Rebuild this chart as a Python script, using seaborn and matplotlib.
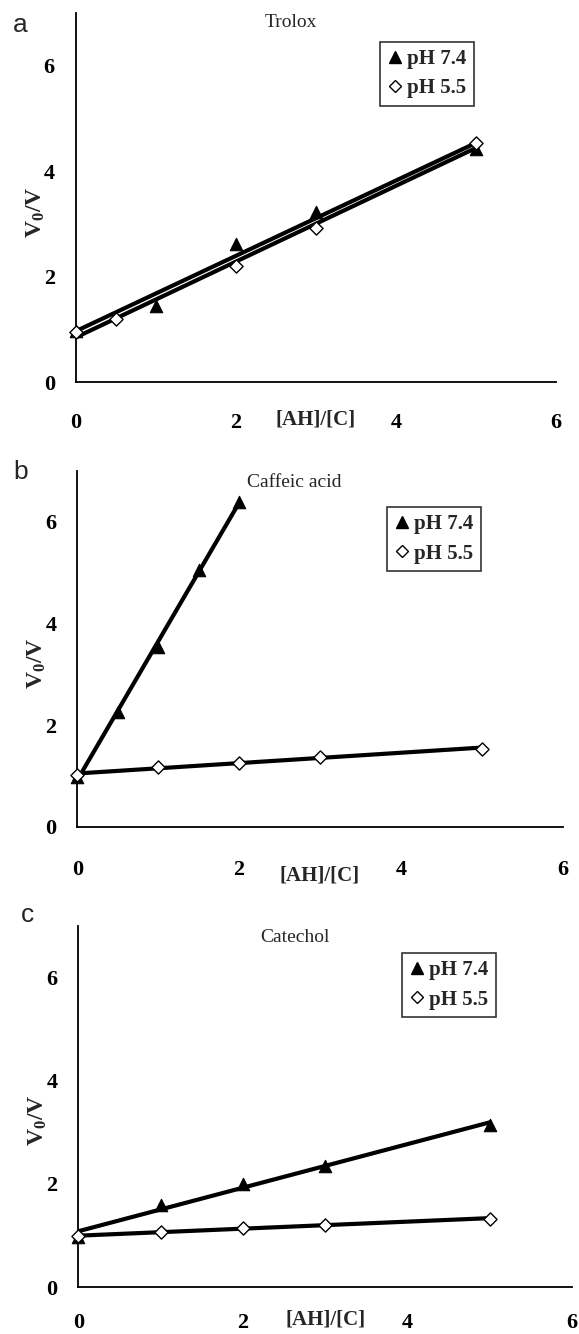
import matplotlib
matplotlib.use("Agg")
import matplotlib.pyplot as plt
from matplotlib.lines import Line2D
import numpy as np
import pandas as pd
import seaborn as sns

# data
trolox_x_74 = [0, 1, 2, 3, 5]
trolox_y_74 = [0.98, 1.45, 2.62, 3.22, 4.43]
trolox_x_55 = [0, 0.5, 2, 3, 5]
trolox_y_55 = [0.95, 1.20, 2.20, 2.92, 4.53]

caffeic_x_74 = [0, 0.5, 1, 1.5, 2]
caffeic_y_74 = [0.98, 2.26, 3.54, 5.05, 6.39]
caffeic_x_55 = [0, 1, 2, 3, 5]
caffeic_y_55 = [1.02, 1.18, 1.25, 1.38, 1.54]

catechol_x_74 = [0, 1, 2, 3, 5]
catechol_y_74 = [0.97, 1.58, 2.00, 2.35, 3.14]
catechol_x_55 = [0, 1, 2, 3, 5]
catechol_y_55 = [0.98, 1.06, 1.15, 1.21, 1.32]

panel_titles = ["Trolox", "Caffeic acid", "Catechol"]
panel_letters = ["a", "b", "c"]
series_labels = ["pH 7.4", "pH 5.5"]
ticks = [0, 2, 4, 6]

sns.set_style("white")
plt.rcParams["font.family"] = ["Liberation Serif", "DejaVu Serif"]
plt.rcParams["mathtext.fontset"] = "custom"
plt.rcParams["mathtext.rm"] = "Liberation Serif:bold"
plt.rcParams["mathtext.bf"] = "Liberation Serif:bold"
plt.rcParams["mathtext.it"] = "Liberation Serif:italic"

fig = plt.figure(figsize=(5.79, 13.34), dpi=100)

boxes = [
	[0.1307, 0.7133, 0.8295, 0.2770],
	[0.1335, 0.3801, 0.8383, 0.2672],
	[0.1352, 0.0352, 0.8527, 0.2710],
]
title_pos = [(0.448, 0.973), (0.448, 0.965), (0.439, 0.968)]
legend_pos = [(0.634, 0.922), (0.638, 0.898), (0.656, 0.924)]
letter_pos = [(0.035, 0.981), (0.035, 0.646), (0.048, 0.314)]
xlabel_y = [-0.074, -0.108, -0.062]
xtick_pad = [15, 17, 12]

panels = [
	(trolox_x_74, trolox_y_74, trolox_x_55, trolox_y_55),
	(caffeic_x_74, caffeic_y_74, caffeic_x_55, caffeic_y_55),
	(catechol_x_74, catechol_y_74, catechol_x_55, catechol_y_55),
]

for i, (x74, y74, x55, y55) in enumerate(panels):
	ax = fig.add_axes(boxes[i])
	df74 = pd.DataFrame({"x": x74, "y": y74})
	df55 = pd.DataFrame({"x": x55, "y": y55})

	# linear fits
	sns.regplot(data=df74, x="x", y="y", ax=ax, scatter=False, ci=None,
		color="black", line_kws={"linewidth": 3.0})
	sns.regplot(data=df55, x="x", y="y", ax=ax, scatter=False, ci=None,
		color="black", line_kws={"linewidth": 3.0})

	sns.scatterplot(data=df74, x="x", y="y", ax=ax, marker="^", s=80,
		color="black", edgecolor="black", linewidth=0.8, zorder=4, clip_on=False)
	sns.scatterplot(data=df55, x="x", y="y", ax=ax, marker="D", s=45,
		facecolor="white", edgecolor="black", linewidth=1.0, zorder=5, clip_on=False)

	ax.set_xlim(0, 6)
	ax.set_ylim(0, 7)
	ax.set_xticks(ticks)
	ax.set_yticks(ticks)
	ax.tick_params(axis="both", direction="out", length=7, width=1.2,
		labelsize=16, colors="black")
	ax.tick_params(axis="x", pad=xtick_pad[i])
	ax.tick_params(axis="y", pad=8)
	for lab in ax.get_xticklabels() + ax.get_yticklabels():
		lab.set_fontweight("bold")
	sns.despine(ax=ax)
	for side in ("left", "bottom"):
		ax.spines[side].set_linewidth(1.3)
		ax.spines[side].set_color("black")

	ax.set_xlabel("[AH]/[C]", fontsize=15, fontweight="bold")
	ax.xaxis.set_label_coords(0.5, xlabel_y[i])
	ax.set_ylabel(r"V$_{\mathrm{0}}$/V", fontsize=17, fontweight="bold")
	ax.yaxis.set_label_coords(-0.06, 0.46)

	ax.text(title_pos[i][0], title_pos[i][1], panel_titles[i], transform=ax.transAxes,
		ha="center", va="center", fontsize=14)

	handles = [
		Line2D([], [], linestyle="none", marker="^", markersize=9,
			markerfacecolor="black", markeredgecolor="black"),
		Line2D([], [], linestyle="none", marker="D", markersize=6,
			markerfacecolor="white", markeredgecolor="black"),
	]
	leg = ax.legend(handles, series_labels, loc="upper left",
		bbox_to_anchor=legend_pos[i], borderaxespad=0,
		prop={"size": 15, "weight": "bold"},
		frameon=True, fancybox=False, edgecolor="black", handlelength=0.7,
		handletextpad=0.25, labelspacing=0.45, borderpad=0.35)
	leg.get_frame().set_linewidth(1.2)

	fig.text(letter_pos[i][0], letter_pos[i][1], panel_letters[i],
		ha="center", va="center", fontsize=19, family="Liberation Sans")

fig.savefig("out.png", dpi=100)
